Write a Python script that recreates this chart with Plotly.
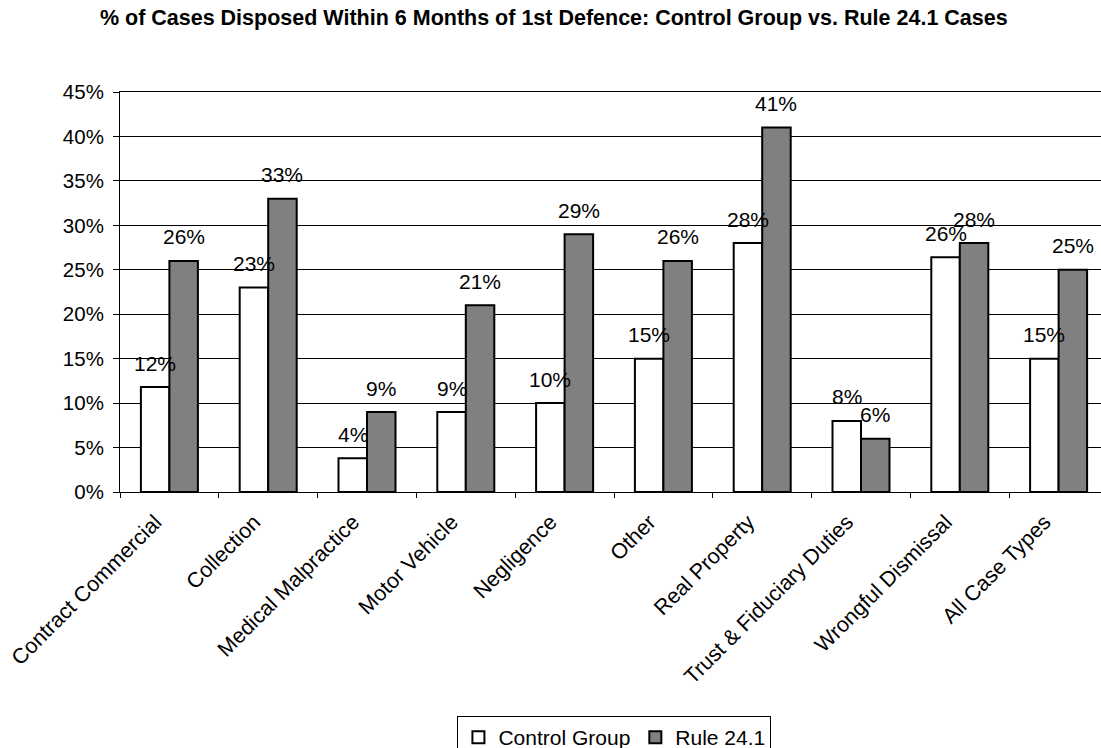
import plotly.graph_objects as go

# ---- data ----
categories = ["Contract Commercial", "Collection", "Medical Malpractice", "Motor Vehicle",
              "Negligence", "Other", "Real Property", "Trust & Fiduciary Duties",
              "Wrongful Dismissal", "All Case Types"]
control_group = [11.8, 23.0, 3.8, 9.0, 10.0, 15.0, 28.0, 8.0, 26.4, 15.0]
rule_24_1 = [26.0, 33.0, 9.0, 21.0, 29.0, 26.0, 41.0, 6.0, 28.0, 25.0]
series_names = ["Control Group", "Rule 24.1"]
y_ticks = [0, 5, 10, 15, 20, 25, 30, 35, 40, 45]

FONT = "Liberation Sans, Arial, sans-serif"
W, H = 1101, 748
ML, MR, MT, MB = 120, 0, 92, 256
PX_PER_CAT = 98.8
plot_w = W - ML - MR
x_span = plot_w / PX_PER_CAT
BAR_HALF = PX_PER_CAT * (1 - 0.423) / 4

fig = go.Figure()
fig.add_trace(go.Bar(x=categories, y=control_group, name=series_names[0],
                     marker=dict(color="#ffffff", line=dict(color="#000000", width=2))))
fig.add_trace(go.Bar(x=categories, y=rule_24_1, name=series_names[1],
                     marker=dict(color="#808080", line=dict(color="#000000", width=2))))

annotations = []
for c, v in zip(categories, control_group):
    annotations.append(dict(x=c, y=v, xref="x", yref="y", text=f"{v:.0f}%", showarrow=False,
                            xshift=-BAR_HALF, yshift=24, yanchor="middle",
                            font=dict(family=FONT, size=21, color="#000")))
for c, v in zip(categories, rule_24_1):
    annotations.append(dict(x=c, y=v, xref="x", yref="y", text=f"{v:.0f}%", showarrow=False,
                            xshift=BAR_HALF, yshift=24, yanchor="middle",
                            font=dict(family=FONT, size=21, color="#000")))

fig.update_layout(
    width=W, height=H,
    margin=dict(l=ML, r=MR, t=MT, b=MB, autoexpand=False),
    paper_bgcolor="white", plot_bgcolor="white",
    font=dict(family=FONT, size=20.5, color="#000"),
    barmode="group", bargap=0.423, bargroupgap=0,
    title=dict(text="<b>% of Cases Disposed Within 6 Months of 1st Defence: Control Group vs. Rule 24.1 Cases</b>",
               x=0.503, xref="container", xanchor="center",
               y=1 - 17 / H, yref="container", yanchor="middle",
               font=dict(family=FONT, size=21.5, color="#000")),
    xaxis=dict(type="category", range=[-0.5, -0.5 + x_span], tickangle=-45,
               showline=True, linecolor="#000", linewidth=1, mirror=True,
               ticks="outside", tickson="boundaries", ticklen=5, tickcolor="#000",
               ticklabelshift=-14, ticklabelstandoff=8,
               showgrid=False, tickfont=dict(family=FONT, size=21.5)),
    yaxis=dict(range=[0, 45], tickvals=y_ticks, ticktext=[f"{t}%" for t in y_ticks],
               showline=True, linecolor="#000", linewidth=1,
               ticks="outside", ticklen=6, tickcolor="#000", ticklabelstandoff=5,
               showgrid=True, gridcolor="#000", gridwidth=1, zeroline=False,
               tickfont=dict(family=FONT, size=20.5)),
    legend=dict(orientation="h", x=0.504, xanchor="center", y=(MB - (H - 716)) / (H - MT - MB) * -1,
                yanchor="top", bordercolor="#000", borderwidth=1, bgcolor="white",
                font=dict(family=FONT, size=21), traceorder="normal"),
    annotations=annotations,
)

fig.write_html("out.html")
